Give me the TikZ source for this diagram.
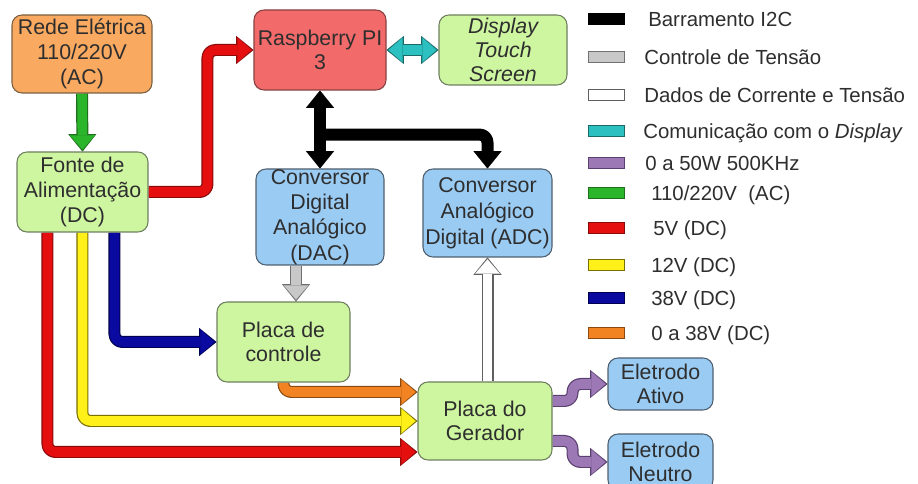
\documentclass[tikz,border=0pt]{standalone}
\usepackage{fontspec}
\setmainfont{Liberation Sans}
\usetikzlibrary{arrows.meta,calc}

\pgfdeclarelayer{paper}
\pgfdeclarelayer{wires}
\pgfsetlayers{paper,wires,main}

% box colours
\definecolor{fOrange}{HTML}{F9A960}
\definecolor{lnOrange}{HTML}{7A6040}
\definecolor{fGreen}{HTML}{CEF5A0}
\definecolor{lnGreen}{HTML}{6E8060}
\definecolor{fRasp}{HTML}{F26A6A}
\definecolor{lnRasp}{HTML}{8A4040}
\definecolor{fBlue}{HTML}{9ACBF3}
\definecolor{lnBlue}{HTML}{506070}
\definecolor{txt}{HTML}{2E2E2E}
% wire colours (fill / outline)
\definecolor{wGreen}{HTML}{2BB52B}  \definecolor{oGreen}{HTML}{1E6E1E}
\definecolor{wRed}{HTML}{E60F0F}    \definecolor{oRed}{HTML}{8A0A0A}
\definecolor{wYellow}{HTML}{FFF01A} \definecolor{oYellow}{HTML}{7A7000}
\definecolor{wBlue}{HTML}{0A0AA0}   \definecolor{oBlue}{HTML}{000050}
\definecolor{wOrange}{HTML}{F28322} \definecolor{oOrange}{HTML}{8A4A10}
\definecolor{wPurple}{HTML}{9C78B4} \definecolor{oPurple}{HTML}{5A4070}
\definecolor{wCyan}{HTML}{2CC0C0}   \definecolor{oCyan}{HTML}{1A6A6A}
\definecolor{wGray}{HTML}{C8C8C8}   \definecolor{oGray}{HTML}{707070}
\definecolor{wWhite}{HTML}{FFFFFF}  \definecolor{oWhite}{HTML}{606060}

\tikzset{
  blk/.style={draw=#1, line width=0.8pt, rounded corners=7.5pt, align=center,
    inner sep=0pt, text=txt, font=\fontsize{16}{18.5}\selectfont},
  outerpass/.style={line width=9pt, rounded corners=6pt, line join=round},
  innerpass/.style={line width=7.2pt, rounded corners=6pt, line join=round},
  headout/.tip={Triangle[length=13pt, width=21pt, line width=0.01pt]},
  headin/.tip={Triangle[length=10.7pt, width=18.4pt, line width=0.01pt]},
  swatch/.style={rectangle, minimum width=27pt, minimum height=8.25pt,
    inner sep=0pt, line width=0.75pt},
  legtext/.style={anchor=west, inner sep=0pt, text=txt, text height=11pt,
    text depth=0pt, font=\fontsize{15.3}{18}\selectfont},
}

% block arrow: fill colour, outline colour, path
\newcommand\flow[3]{%
  \draw[outerpass, draw=#2, -{headout}] #3;
  \draw[innerpass, draw=#1, -{headin}, shorten >=1.4pt] #3;
}
\newcommand\flowboth[3]{%
  \draw[outerpass, draw=#2, {headout}-{headout}] #3;
  \draw[innerpass, draw=#1, {headin}-{headin}, shorten >=1.4pt, shorten <=1.4pt] #3;
}

\begin{document}
\begin{tikzpicture}[x=0.75pt,y=-0.75pt]
\useasboundingbox (0,0) rectangle (918,484);
\begin{pgfonlayer}{paper}
  \fill[white] (0,0) rectangle (918,484);
\end{pgfonlayer}

% blocks
\node[blk=lnOrange, fill=fOrange, minimum width=105pt, minimum height=58.5pt] (rede) at (82,54) {Rede Elétrica\\110/220V\\(AC)};
\node[blk=lnGreen, fill=fGreen, minimum width=98.25pt, minimum height=60pt] (fonte) at (82.5,192) {Fonte de\\Alimentação\\(DC)};
\node[blk=lnRasp, fill=fRasp, minimum width=99pt, minimum height=60pt] (rasp) at (320,50) {Raspberry PI\\3};
\node[blk=lnGreen, fill=fGreen, minimum width=96pt, minimum height=52.5pt, font=\fontsize{16}{18}\selectfont\itshape] (disp) at (503,50) {Display\\Touch\\Screen};
\node[blk=lnBlue, fill=fBlue, minimum width=96pt, minimum height=72pt, font=\fontsize{16}{19}\selectfont] (dac) at (320,217) {Conversor\\Digital\\Analógico\\(DAC)};
\node[blk=lnBlue, fill=fBlue, minimum width=96.75pt, minimum height=66pt, font=\fontsize{16}{19.5}\selectfont] (adc) at (487.5,213) {Conversor\\Analógico\\Digital (ADC)};
\node[blk=lnGreen, fill=fGreen, minimum width=99.75pt, minimum height=60pt, font=\fontsize{16}{17.5}\selectfont] (ctrl) at (283.5,342) {Placa de\\controle};
\node[blk=lnGreen, fill=fGreen, minimum width=100.5pt, minimum height=58.5pt, font=\fontsize{16}{17.5}\selectfont] (ger) at (485,421) {Placa do\\Gerador};
\node[blk=lnBlue, fill=fBlue, minimum width=78.75pt, minimum height=39pt, font=\fontsize{16}{17.5}\selectfont] (ativo) at (660.5,384) {Eletrodo\\Ativo};
\node[blk=lnBlue, fill=fBlue, minimum width=78.75pt, minimum height=42pt, font=\fontsize{16}{18.5}\selectfont] (neutro) at (660.5,462) {Eletrodo\\Neutro};

% tap points on the supply and the bus
\coordinate (f5)  at ($(fonte.south west)+(31,0)$);
\coordinate (f12) at ($(fonte.south west)+(66,0)$);
\coordinate (f38) at ($(fonte.south west)+(98,0)$);
\coordinate (bus) at ($(rasp.south)+(0,44)$);
\coordinate (gtop) at ($(dac.south)+(-24,0)$);
\coordinate (pu) at ($(ger.east)+(0,-20)$);
\coordinate (pd) at ($(ger.east)+(0,20)$);

\begin{pgfonlayer}{wires}
  \flow{wGreen}{oGreen}{(rede.south) -- (fonte.north)}
  \flow{wRed}{oRed}{(fonte.east) -| ($(rasp.west)+(-46,0)$) -- (rasp.west)}
  \flowboth{wCyan}{oCyan}{(rasp.east) -- (disp.west)}
  \flowboth{black}{black}{(rasp.south) -- (dac.north)}
  \flow{black}{black}{(bus) -| (adc.north)}
  \flow{wGray}{oGray}{(gtop) -- (gtop |- ctrl.north)}
  \flow{wWhite}{oWhite}{(adc.south |- ger.north) -- (adc.south)}
  \flow{wRed}{oRed}{(f5) |- ($(ger.west)+(0,31)$)}
  \flow{wYellow}{oYellow}{(f12) |- (ger.west)}
  \flow{wBlue}{oBlue}{(f38) |- (ctrl.west)}
  \flow{wOrange}{oOrange}{(ctrl.south) |- ($(ger.west)+(0,-29)$)}
  \flow{wPurple}{oPurple}{(pu) -- ++(20,0) |- (ativo.west)}
  \flow{wPurple}{oPurple}{(pd) -- ++(20,0) |- (neutro.west)}
\end{pgfonlayer}

% legend
\foreach \i/\yy/\fc/\lc/\xx/\txt in {
  1/19/black/black/648/{Barramento I2C},
  2/57/wGray/oGray/644/{Controle de Tensão},
  3/95/wWhite/oWhite/644/{Dados de Corrente e Tensão},
  4/131/wCyan/oCyan/643/{Comunicação com o \textit{Display}},
  5/163/wPurple/oPurple/645/{0 a 50W 500KHz},
  6/193/wGreen/oGreen/651/{110/220V\ \ (AC)},
  7/228/wRed/oRed/653/{5V (DC)},
  8/265/wYellow/oYellow/651/{12V (DC)},
  9/298/wBlue/oBlue/651/{38V (DC)},
  10/333/wOrange/oOrange/651/{0 a 38V (DC)}}{
  \node[swatch, fill=\fc, draw=\lc] (sw\i) at (606,\yy) {};
  \node[legtext] (lg\i) at (\xx,\yy) {\txt};
}
\end{tikzpicture}
\end{document}
